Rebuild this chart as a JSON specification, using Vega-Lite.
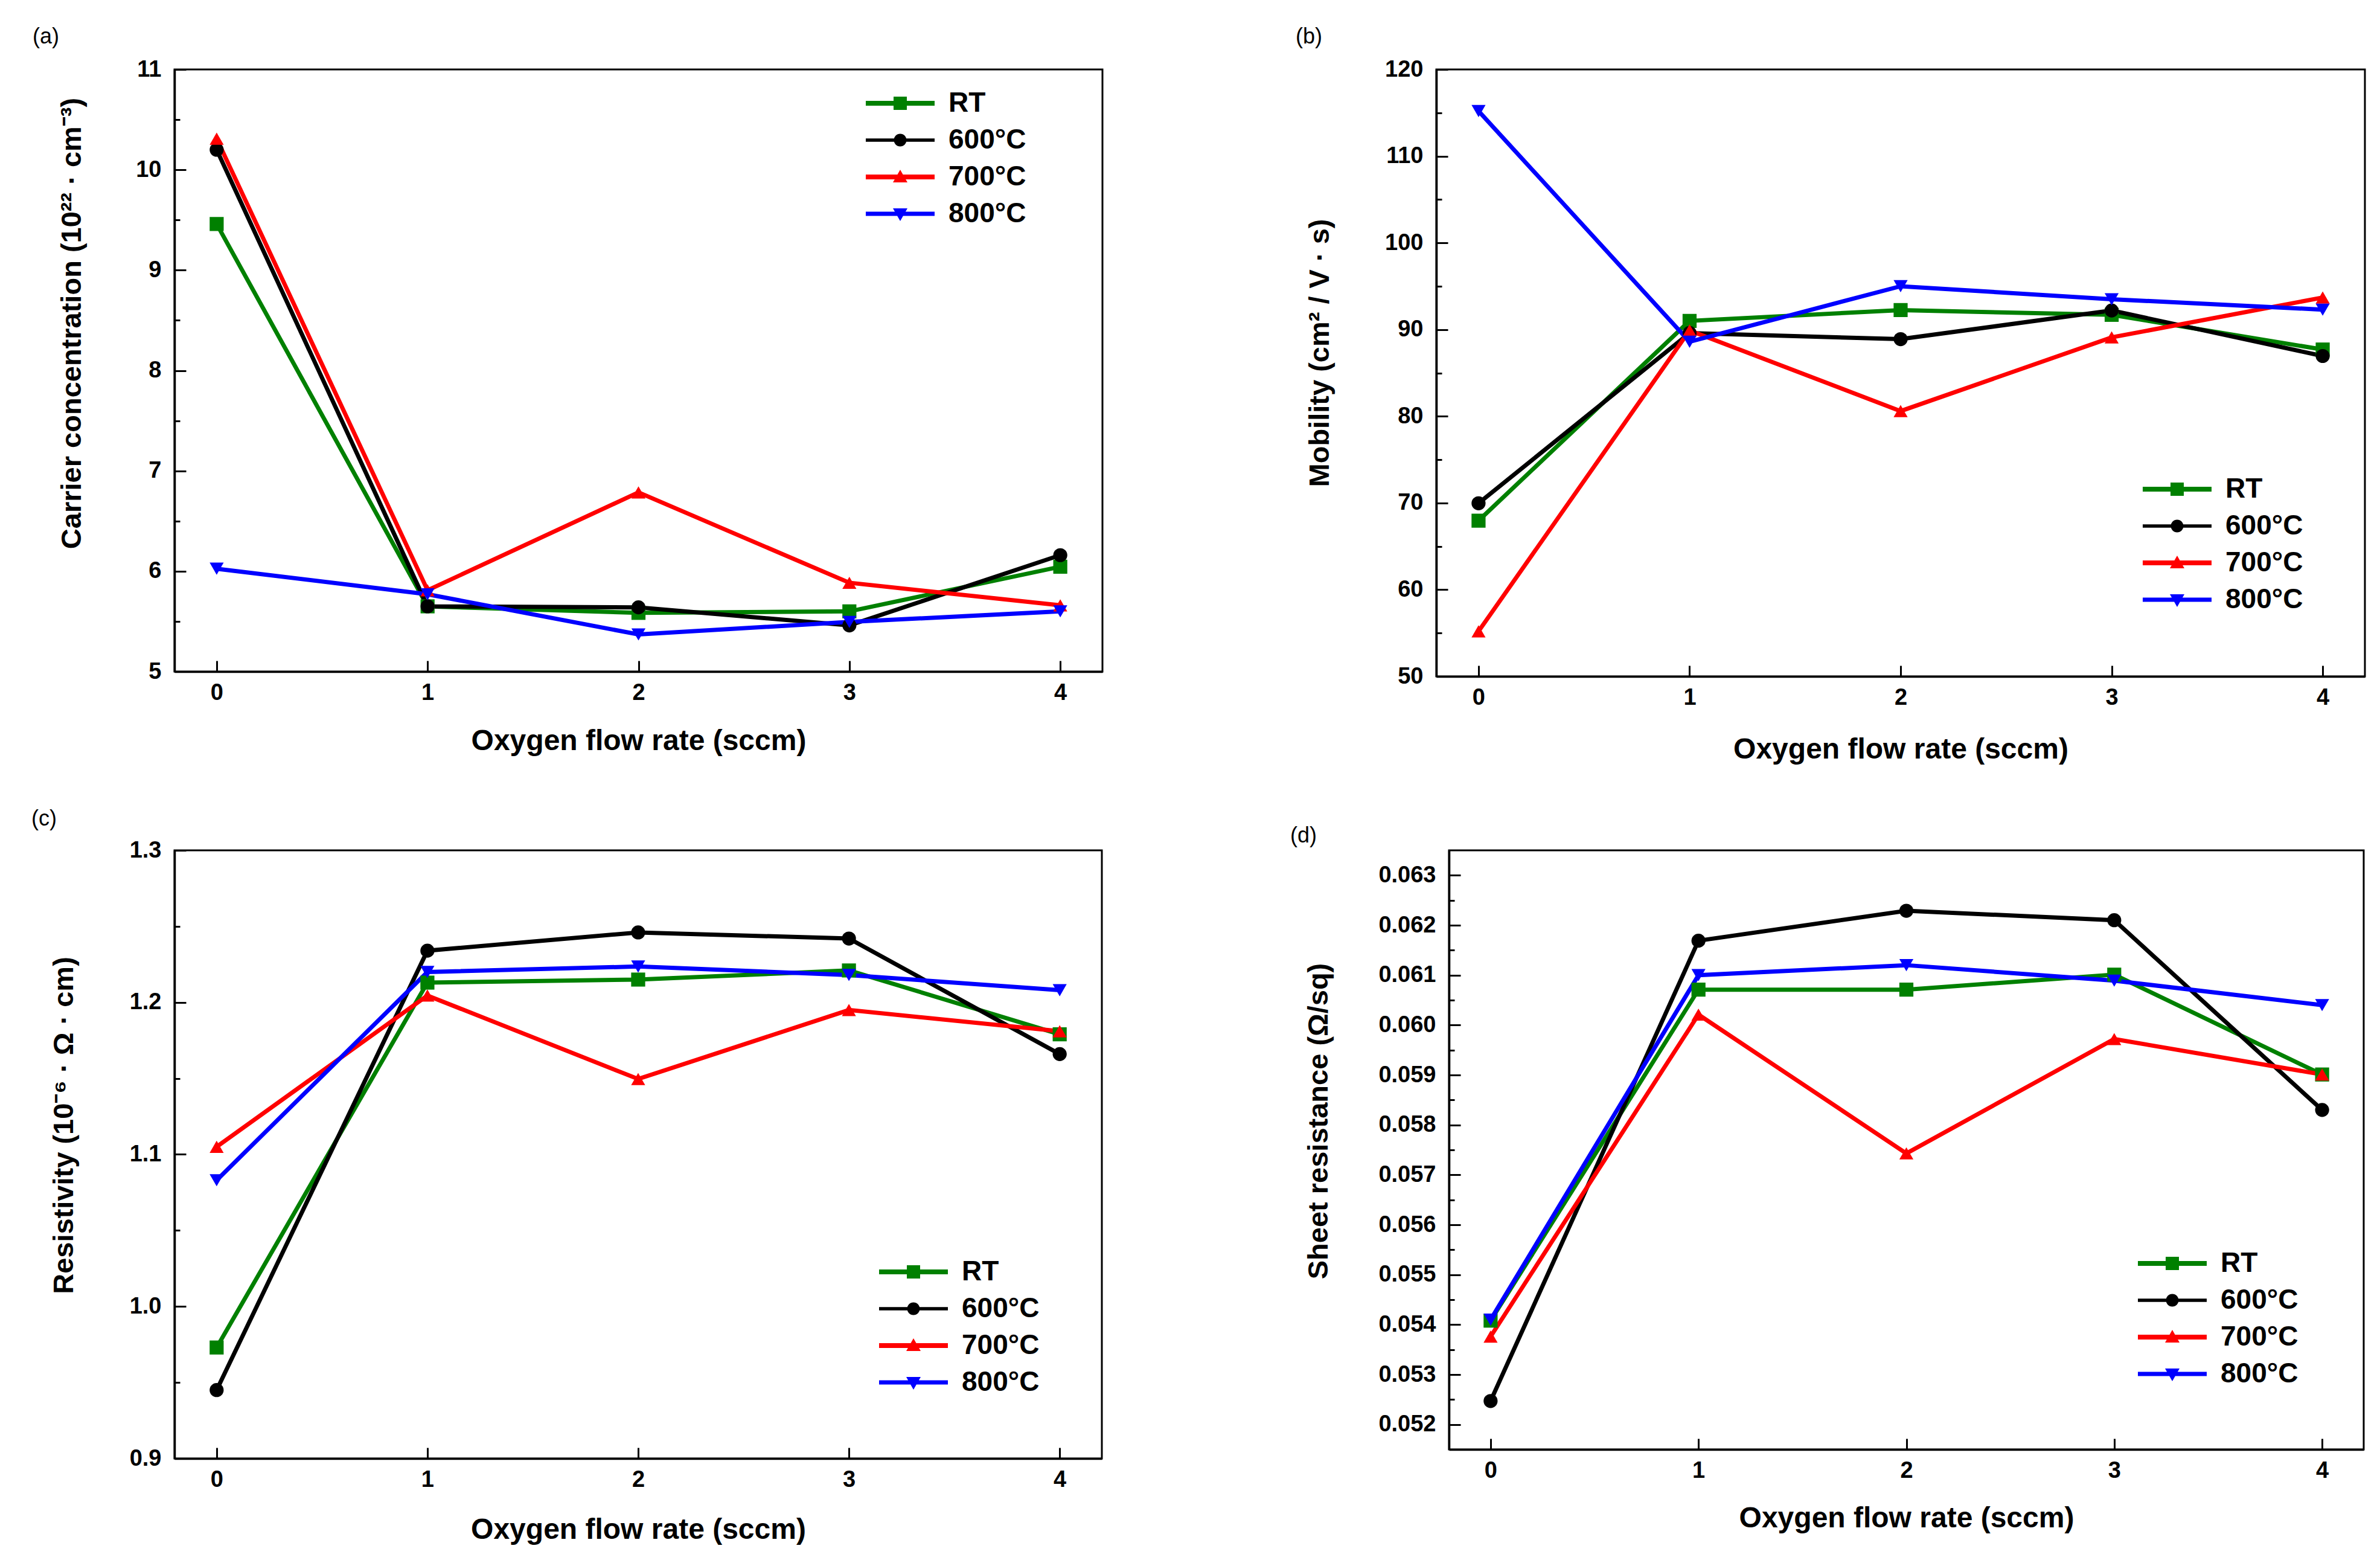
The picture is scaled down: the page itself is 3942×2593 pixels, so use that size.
{
  "$schema": "https://vega.github.io/schema/vega-lite/v6.json",
  "background": "white",
  "padding": {"left": 50, "top": 41, "right": 0, "bottom": 0},
  "config": {
    "font": "Liberation Sans",
    "view": {"stroke": "black", "strokeWidth": 3},
    "axis": {"grid": false, "domainColor": "black", "domainWidth": 3.5, "tickColor": "black", "tickWidth": 3, "labelColor": "black", "labelFont": "Liberation Sans", "labelFontSize": 38, "labelFontWeight": "bold", "titleColor": "black", "titleFont": "Liberation Sans", "titleFontSize": 47, "titleFontWeight": "bold"},
    "legend": {"padding": 0, "labelFont": "Liberation Sans", "labelFontSize": 46, "labelFontWeight": "bold", "labelColor": "black", "labelOffset": 57, "rowPadding": 15, "symbolSize": 400, "symbolOffset": 0, "symbolStrokeWidth": 0, "labelBaseline": "middle"},
    "title": {"font": "Liberation Sans", "fontSize": 36, "fontWeight": "normal", "color": "black", "anchor": "start", "frame": "group"}
  },
  "datasets": {
    "d": [
      {"p": "a", "s": "RT", "x": 0, "v": 9.46}, {"p": "a", "s": "RT", "x": 1, "v": 5.65}, {"p": "a", "s": "RT", "x": 2, "v": 5.585}, {"p": "a", "s": "RT", "x": 3, "v": 5.6}, {"p": "a", "s": "RT", "x": 4, "v": 6.045},
      {"p": "a", "s": "600°C", "x": 0, "v": 10.2}, {"p": "a", "s": "600°C", "x": 1, "v": 5.65}, {"p": "a", "s": "600°C", "x": 2, "v": 5.64}, {"p": "a", "s": "600°C", "x": 3, "v": 5.46}, {"p": "a", "s": "600°C", "x": 4, "v": 6.16},
      {"p": "a", "s": "700°C", "x": 0, "v": 10.31}, {"p": "a", "s": "700°C", "x": 1, "v": 5.81}, {"p": "a", "s": "700°C", "x": 2, "v": 6.785}, {"p": "a", "s": "700°C", "x": 3, "v": 5.885}, {"p": "a", "s": "700°C", "x": 4, "v": 5.66},
      {"p": "a", "s": "800°C", "x": 0, "v": 6.025}, {"p": "a", "s": "800°C", "x": 1, "v": 5.77}, {"p": "a", "s": "800°C", "x": 2, "v": 5.37}, {"p": "a", "s": "800°C", "x": 3, "v": 5.495}, {"p": "a", "s": "800°C", "x": 4, "v": 5.6},
      {"p": "b", "s": "RT", "x": 0, "v": 67.96}, {"p": "b", "s": "RT", "x": 1, "v": 91.0}, {"p": "b", "s": "RT", "x": 2, "v": 92.25}, {"p": "b", "s": "RT", "x": 3, "v": 91.7}, {"p": "b", "s": "RT", "x": 4, "v": 87.7},
      {"p": "b", "s": "600°C", "x": 0, "v": 69.97}, {"p": "b", "s": "600°C", "x": 1, "v": 89.6}, {"p": "b", "s": "600°C", "x": 2, "v": 88.9}, {"p": "b", "s": "600°C", "x": 3, "v": 92.2}, {"p": "b", "s": "600°C", "x": 4, "v": 86.95},
      {"p": "b", "s": "700°C", "x": 0, "v": 55.2}, {"p": "b", "s": "700°C", "x": 1, "v": 89.9}, {"p": "b", "s": "700°C", "x": 2, "v": 80.6}, {"p": "b", "s": "700°C", "x": 3, "v": 89.1}, {"p": "b", "s": "700°C", "x": 4, "v": 93.7},
      {"p": "b", "s": "800°C", "x": 0, "v": 115.2}, {"p": "b", "s": "800°C", "x": 1, "v": 88.6}, {"p": "b", "s": "800°C", "x": 2, "v": 95.0}, {"p": "b", "s": "800°C", "x": 3, "v": 93.5}, {"p": "b", "s": "800°C", "x": 4, "v": 92.3},
      {"p": "c", "s": "RT", "x": 0, "v": 0.973}, {"p": "c", "s": "RT", "x": 1, "v": 1.213}, {"p": "c", "s": "RT", "x": 2, "v": 1.215}, {"p": "c", "s": "RT", "x": 3, "v": 1.221}, {"p": "c", "s": "RT", "x": 4, "v": 1.179},
      {"p": "c", "s": "600°C", "x": 0, "v": 0.945}, {"p": "c", "s": "600°C", "x": 1, "v": 1.234}, {"p": "c", "s": "600°C", "x": 2, "v": 1.246}, {"p": "c", "s": "600°C", "x": 3, "v": 1.242}, {"p": "c", "s": "600°C", "x": 4, "v": 1.166},
      {"p": "c", "s": "700°C", "x": 0, "v": 1.105}, {"p": "c", "s": "700°C", "x": 1, "v": 1.2045}, {"p": "c", "s": "700°C", "x": 2, "v": 1.1496}, {"p": "c", "s": "700°C", "x": 3, "v": 1.195}, {"p": "c", "s": "700°C", "x": 4, "v": 1.181},
      {"p": "c", "s": "800°C", "x": 0, "v": 1.083}, {"p": "c", "s": "800°C", "x": 1, "v": 1.22}, {"p": "c", "s": "800°C", "x": 2, "v": 1.2236}, {"p": "c", "s": "800°C", "x": 3, "v": 1.218}, {"p": "c", "s": "800°C", "x": 4, "v": 1.208},
      {"p": "d", "s": "RT", "x": 0, "v": 0.05408}, {"p": "d", "s": "RT", "x": 1, "v": 0.06071}, {"p": "d", "s": "RT", "x": 2, "v": 0.06071}, {"p": "d", "s": "RT", "x": 3, "v": 0.06101}, {"p": "d", "s": "RT", "x": 4, "v": 0.05901},
      {"p": "d", "s": "600°C", "x": 0, "v": 0.05247}, {"p": "d", "s": "600°C", "x": 1, "v": 0.06169}, {"p": "d", "s": "600°C", "x": 2, "v": 0.06229}, {"p": "d", "s": "600°C", "x": 3, "v": 0.0621}, {"p": "d", "s": "600°C", "x": 4, "v": 0.0583},
      {"p": "d", "s": "700°C", "x": 0, "v": 0.05376}, {"p": "d", "s": "700°C", "x": 1, "v": 0.06021}, {"p": "d", "s": "700°C", "x": 2, "v": 0.05743}, {"p": "d", "s": "700°C", "x": 3, "v": 0.05972}, {"p": "d", "s": "700°C", "x": 4, "v": 0.05901},
      {"p": "d", "s": "800°C", "x": 0, "v": 0.0541}, {"p": "d", "s": "800°C", "x": 1, "v": 0.061}, {"p": "d", "s": "800°C", "x": 2, "v": 0.0612}, {"p": "d", "s": "800°C", "x": 3, "v": 0.06089}, {"p": "d", "s": "800°C", "x": 4, "v": 0.0604}
    ]
  },
  "spacing": 69,
  "resolve": {"scale": {"color": "independent", "shape": "independent"}, "legend": {"color": "independent", "shape": "independent"}},
  "vconcat": [
    {
      "hconcat": [
        {
          "width": 1537, "height": 997,
          "title": {"text": "(a)", "dx": -235, "offset": 16},
          "data": {"name": "d"},
          "transform": [{"filter": "datum.p === 'a'"}],
          "encoding": {
            "x": {"field": "x", "type": "quantitative", "scale": {"domain": [-0.2, 4.2], "nice": false, "zero": false},
                  "axis": {"values": [0, 1, 2, 3, 4], "format": "d", "tickSize": -18, "labelPadding": 34, "title": "Oxygen flow rate (sccm)", "titleFontSize": 48, "titlePadding": 31, "minExtent": 60, "maxExtent": 60}}
          },
          "resolve": {"axis": {"y": "independent"}},
          "layer": [
            {
              "mark": {"type": "line", "strokeWidth": 7},
              "encoding": {
                "y": {"field": "v", "type": "quantitative", "scale": {"domain": [5, 11], "nice": false, "zero": false},
                      "axis": {"values": [5, 6, 7, 8, 9, 10, 11], "format": "d", "tickSize": -19, "labelPadding": 41, "title": "Carrier concentration (10²² · cm⁻³)", "titleX": -170, "titleY": 420, "titleAngle": 270, "titleBaseline": "middle", "titleAlign": "center"}},
                "color": {"field": "s", "type": "nominal", "scale": {"domain": ["RT", "600°C", "700°C", "800°C"], "range": ["#008000", "#000000", "#ff0000", "#0000ff"]},
                          "legend": {"orient": "none", "legendX": 1179, "legendY": 33, "title": null,
                                     "encode": {"symbols": {"update": {"shape": {"signal": "datum.value === 'RT' ? 'M-5.7,-0.4H5.7V0.4H-5.7Z M-1.1,-1.1H1.1V1.1H-1.1Z' : datum.value === '600°C' ? 'M-5.7,-0.28H5.7V0.28H-5.7Z M1.05,0A1.05,1.05 0 1,1 -1.05,0A1.05,1.05 0 1,1 1.05,0Z' : datum.value === '700°C' ? 'M-5.7,-0.4H5.7V0.4H-5.7Z M0,-1.2L1.2,0.9L-1.2,0.9Z' : 'M-5.7,-0.35H5.7V0.35H-5.7Z M0,1.2L-1.2,-0.9L1.2,-0.9Z'"}, "strokeWidth": {"value": 0}, "opacity": {"value": 1}}}}}}
              }
            },
            {
              "mark": {"type": "point", "filled": true, "size": 540, "opacity": 1},
              "encoding": {
                "y": {"field": "v", "type": "quantitative", "axis": {"orient": "left", "values": [5.5, 6.5, 7.5, 8.5, 9.5, 10.5], "tickSize": -9, "labels": false, "domain": false, "title": null}},
                "shape": {"field": "s", "type": "nominal", "scale": {"domain": ["600°C", "RT", "700°C", "800°C"], "range": ["circle", "square", "triangle-up", "triangle-down"]}, "legend": null},
                "color": {"field": "s", "type": "nominal", "scale": {"domain": ["RT", "600°C", "700°C", "800°C"], "range": ["#008000", "#000000", "#ff0000", "#0000ff"]},
                          "legend": {"orient": "none", "legendX": 1179, "legendY": 33, "title": null,
                                     "encode": {"symbols": {"update": {"shape": {"signal": "datum.value === 'RT' ? 'M-5.7,-0.4H5.7V0.4H-5.7Z M-1.1,-1.1H1.1V1.1H-1.1Z' : datum.value === '600°C' ? 'M-5.7,-0.28H5.7V0.28H-5.7Z M1.05,0A1.05,1.05 0 1,1 -1.05,0A1.05,1.05 0 1,1 1.05,0Z' : datum.value === '700°C' ? 'M-5.7,-0.4H5.7V0.4H-5.7Z M0,-1.2L1.2,0.9L-1.2,0.9Z' : 'M-5.7,-0.35H5.7V0.35H-5.7Z M0,1.2L-1.2,-0.9L1.2,-0.9Z'"}, "strokeWidth": {"value": 0}, "opacity": {"value": 1}}}}}}
              }
            }
          ]
        },
        {
          "width": 1538, "height": 1005,
          "title": {"text": "(b)", "dx": -233, "offset": 16},
          "data": {"name": "d"},
          "transform": [{"filter": "datum.p === 'b'"}],
          "encoding": {
            "x": {"field": "x", "type": "quantitative", "scale": {"domain": [-0.2, 4.2], "nice": false, "zero": false},
                  "axis": {"values": [0, 1, 2, 3, 4], "format": "d", "tickSize": -18, "labelPadding": 34, "title": "Oxygen flow rate (sccm)", "titleFontSize": 48, "titlePadding": 37, "minExtent": 60, "maxExtent": 60}}
          },
          "resolve": {"axis": {"y": "independent"}},
          "layer": [
            {
              "mark": {"type": "line", "strokeWidth": 7},
              "encoding": {
                "y": {"field": "v", "type": "quantitative", "scale": {"domain": [50, 120], "nice": false, "zero": false},
                      "axis": {"values": [50, 60, 70, 80, 90, 100, 110, 120], "format": "d", "tickSize": -19, "labelPadding": 41, "title": "Mobility (cm² / V · s)", "titleX": -193, "titleY": 469, "titleAngle": 270, "titleBaseline": "middle", "titleAlign": "center"}},
                "color": {"field": "s", "type": "nominal", "scale": {"domain": ["RT", "600°C", "700°C", "800°C"], "range": ["#008000", "#000000", "#ff0000", "#0000ff"]},
                          "legend": {"orient": "none", "legendX": 1204, "legendY": 672, "title": null,
                                     "encode": {"symbols": {"update": {"shape": {"signal": "datum.value === 'RT' ? 'M-5.7,-0.4H5.7V0.4H-5.7Z M-1.1,-1.1H1.1V1.1H-1.1Z' : datum.value === '600°C' ? 'M-5.7,-0.28H5.7V0.28H-5.7Z M1.05,0A1.05,1.05 0 1,1 -1.05,0A1.05,1.05 0 1,1 1.05,0Z' : datum.value === '700°C' ? 'M-5.7,-0.4H5.7V0.4H-5.7Z M0,-1.2L1.2,0.9L-1.2,0.9Z' : 'M-5.7,-0.35H5.7V0.35H-5.7Z M0,1.2L-1.2,-0.9L1.2,-0.9Z'"}, "strokeWidth": {"value": 0}, "opacity": {"value": 1}}}}}}
              }
            },
            {
              "mark": {"type": "point", "filled": true, "size": 540, "opacity": 1},
              "encoding": {
                "y": {"field": "v", "type": "quantitative", "axis": {"orient": "left", "values": [55, 65, 75, 85, 95, 105, 115], "tickSize": -9, "labels": false, "domain": false, "title": null}},
                "shape": {"field": "s", "type": "nominal", "scale": {"domain": ["600°C", "RT", "700°C", "800°C"], "range": ["circle", "square", "triangle-up", "triangle-down"]}, "legend": null},
                "color": {"field": "s", "type": "nominal", "scale": {"domain": ["RT", "600°C", "700°C", "800°C"], "range": ["#008000", "#000000", "#ff0000", "#0000ff"]},
                          "legend": {"orient": "none", "legendX": 1204, "legendY": 672, "title": null,
                                     "encode": {"symbols": {"update": {"shape": {"signal": "datum.value === 'RT' ? 'M-5.7,-0.4H5.7V0.4H-5.7Z M-1.1,-1.1H1.1V1.1H-1.1Z' : datum.value === '600°C' ? 'M-5.7,-0.28H5.7V0.28H-5.7Z M1.05,0A1.05,1.05 0 1,1 -1.05,0A1.05,1.05 0 1,1 1.05,0Z' : datum.value === '700°C' ? 'M-5.7,-0.4H5.7V0.4H-5.7Z M0,-1.2L1.2,0.9L-1.2,0.9Z' : 'M-5.7,-0.35H5.7V0.35H-5.7Z M0,1.2L-1.2,-0.9L1.2,-0.9Z'"}, "strokeWidth": {"value": 0}, "opacity": {"value": 1}}}}}}
              }
            }
          ]
        }
      ],
      "spacing": 553,
      "bounds": "flush",
      "resolve": {"scale": {"color": "independent", "shape": "independent"}, "legend": {"color": "independent", "shape": "independent"}}
    },
    {
      "hconcat": [
        {
          "width": 1536, "height": 1007,
          "title": {"text": "(c)", "dx": -237, "offset": 14},
          "data": {"name": "d"},
          "transform": [{"filter": "datum.p === 'c'"}],
          "encoding": {
            "x": {"field": "x", "type": "quantitative", "scale": {"domain": [-0.2, 4.2], "nice": false, "zero": false},
                  "axis": {"values": [0, 1, 2, 3, 4], "format": "d", "tickSize": -18, "labelPadding": 34, "title": "Oxygen flow rate (sccm)", "titleFontSize": 48, "titlePadding": 34, "minExtent": 60, "maxExtent": 60}}
          },
          "resolve": {"axis": {"y": "independent"}},
          "layer": [
            {
              "mark": {"type": "line", "strokeWidth": 7},
              "encoding": {
                "y": {"field": "v", "type": "quantitative", "scale": {"domain": [0.9, 1.3], "nice": false, "zero": false},
                      "axis": {"values": [0.9, 1.0, 1.1, 1.2, 1.3], "format": ".1f", "tickSize": -19, "labelPadding": 41, "title": "Resistivity (10⁻⁶ · Ω · cm)", "titleX": -183, "titleY": 455, "titleAngle": 270, "titleBaseline": "middle", "titleAlign": "center"}},
                "color": {"field": "s", "type": "nominal", "scale": {"domain": ["RT", "600°C", "700°C", "800°C"], "range": ["#008000", "#000000", "#ff0000", "#0000ff"]},
                          "legend": {"orient": "none", "legendX": 1201, "legendY": 675, "title": null,
                                     "encode": {"symbols": {"update": {"shape": {"signal": "datum.value === 'RT' ? 'M-5.7,-0.4H5.7V0.4H-5.7Z M-1.1,-1.1H1.1V1.1H-1.1Z' : datum.value === '600°C' ? 'M-5.7,-0.28H5.7V0.28H-5.7Z M1.05,0A1.05,1.05 0 1,1 -1.05,0A1.05,1.05 0 1,1 1.05,0Z' : datum.value === '700°C' ? 'M-5.7,-0.4H5.7V0.4H-5.7Z M0,-1.2L1.2,0.9L-1.2,0.9Z' : 'M-5.7,-0.35H5.7V0.35H-5.7Z M0,1.2L-1.2,-0.9L1.2,-0.9Z'"}, "strokeWidth": {"value": 0}, "opacity": {"value": 1}}}}}}
              }
            },
            {
              "mark": {"type": "point", "filled": true, "size": 540, "opacity": 1},
              "encoding": {
                "y": {"field": "v", "type": "quantitative", "axis": {"orient": "left", "values": [0.95, 1.05, 1.15, 1.25], "tickSize": -9, "labels": false, "domain": false, "title": null}},
                "shape": {"field": "s", "type": "nominal", "scale": {"domain": ["600°C", "RT", "700°C", "800°C"], "range": ["circle", "square", "triangle-up", "triangle-down"]}, "legend": null},
                "color": {"field": "s", "type": "nominal", "scale": {"domain": ["RT", "600°C", "700°C", "800°C"], "range": ["#008000", "#000000", "#ff0000", "#0000ff"]},
                          "legend": {"orient": "none", "legendX": 1201, "legendY": 675, "title": null,
                                     "encode": {"symbols": {"update": {"shape": {"signal": "datum.value === 'RT' ? 'M-5.7,-0.4H5.7V0.4H-5.7Z M-1.1,-1.1H1.1V1.1H-1.1Z' : datum.value === '600°C' ? 'M-5.7,-0.28H5.7V0.28H-5.7Z M1.05,0A1.05,1.05 0 1,1 -1.05,0A1.05,1.05 0 1,1 1.05,0Z' : datum.value === '700°C' ? 'M-5.7,-0.4H5.7V0.4H-5.7Z M0,-1.2L1.2,0.9L-1.2,0.9Z' : 'M-5.7,-0.35H5.7V0.35H-5.7Z M0,1.2L-1.2,-0.9L1.2,-0.9Z'"}, "strokeWidth": {"value": 0}, "opacity": {"value": 1}}}}}}
              }
            }
          ]
        },
        {
          "width": 1515, "height": 992,
          "title": {"text": "(d)", "dx": -263, "offset": 5},
          "data": {"name": "d"},
          "transform": [{"filter": "datum.p === 'd'"}],
          "encoding": {
            "x": {"field": "x", "type": "quantitative", "scale": {"domain": [-0.2, 4.2], "nice": false, "zero": false},
                  "axis": {"values": [0, 1, 2, 3, 4], "format": "d", "tickSize": -18, "labelPadding": 34, "title": "Oxygen flow rate (sccm)", "titleFontSize": 48, "titlePadding": 30, "minExtent": 60, "maxExtent": 60}}
          },
          "resolve": {"axis": {"y": "independent"}},
          "layer": [
            {
              "mark": {"type": "line", "strokeWidth": 7},
              "encoding": {
                "y": {"field": "v", "type": "quantitative", "scale": {"domain": [0.0515, 0.0635], "nice": false, "zero": false},
                      "axis": {"values": [0.052, 0.053, 0.054, 0.055, 0.056, 0.057, 0.058, 0.059, 0.06, 0.061, 0.062, 0.063], "format": ".3f", "tickSize": -19, "labelPadding": 41, "title": "Sheet resistance (Ω/sq)", "titleX": -216, "titleY": 448, "titleAngle": 270, "titleBaseline": "middle", "titleAlign": "center"}},
                "color": {"field": "s", "type": "nominal", "scale": {"domain": ["RT", "600°C", "700°C", "800°C"], "range": ["#008000", "#000000", "#ff0000", "#0000ff"]},
                          "legend": {"orient": "none", "legendX": 1175, "legendY": 661, "title": null,
                                     "encode": {"symbols": {"update": {"shape": {"signal": "datum.value === 'RT' ? 'M-5.7,-0.4H5.7V0.4H-5.7Z M-1.1,-1.1H1.1V1.1H-1.1Z' : datum.value === '600°C' ? 'M-5.7,-0.28H5.7V0.28H-5.7Z M1.05,0A1.05,1.05 0 1,1 -1.05,0A1.05,1.05 0 1,1 1.05,0Z' : datum.value === '700°C' ? 'M-5.7,-0.4H5.7V0.4H-5.7Z M0,-1.2L1.2,0.9L-1.2,0.9Z' : 'M-5.7,-0.35H5.7V0.35H-5.7Z M0,1.2L-1.2,-0.9L1.2,-0.9Z'"}, "strokeWidth": {"value": 0}, "opacity": {"value": 1}}}}}}
              }
            },
            {
              "mark": {"type": "point", "filled": true, "size": 540, "opacity": 1},
              "encoding": {
                "y": {"field": "v", "type": "quantitative", "axis": {"orient": "left", "values": [0.0525, 0.0535, 0.0545, 0.0555, 0.0565, 0.0575, 0.0585, 0.0595, 0.0605, 0.0615, 0.0625], "tickSize": -9, "labels": false, "domain": false, "title": null}},
                "shape": {"field": "s", "type": "nominal", "scale": {"domain": ["600°C", "RT", "700°C", "800°C"], "range": ["circle", "square", "triangle-up", "triangle-down"]}, "legend": null},
                "color": {"field": "s", "type": "nominal", "scale": {"domain": ["RT", "600°C", "700°C", "800°C"], "range": ["#008000", "#000000", "#ff0000", "#0000ff"]},
                          "legend": {"orient": "none", "legendX": 1175, "legendY": 661, "title": null,
                                     "encode": {"symbols": {"update": {"shape": {"signal": "datum.value === 'RT' ? 'M-5.7,-0.4H5.7V0.4H-5.7Z M-1.1,-1.1H1.1V1.1H-1.1Z' : datum.value === '600°C' ? 'M-5.7,-0.28H5.7V0.28H-5.7Z M1.05,0A1.05,1.05 0 1,1 -1.05,0A1.05,1.05 0 1,1 1.05,0Z' : datum.value === '700°C' ? 'M-5.7,-0.4H5.7V0.4H-5.7Z M0,-1.2L1.2,0.9L-1.2,0.9Z' : 'M-5.7,-0.35H5.7V0.35H-5.7Z M0,1.2L-1.2,-0.9L1.2,-0.9Z'"}, "strokeWidth": {"value": 0}, "opacity": {"value": 1}}}}}}
              }
            }
          ]
        }
      ],
      "spacing": 575,
      "bounds": "flush",
      "resolve": {"scale": {"color": "independent", "shape": "independent"}, "legend": {"color": "independent", "shape": "independent"}}
    }
  ]
}
